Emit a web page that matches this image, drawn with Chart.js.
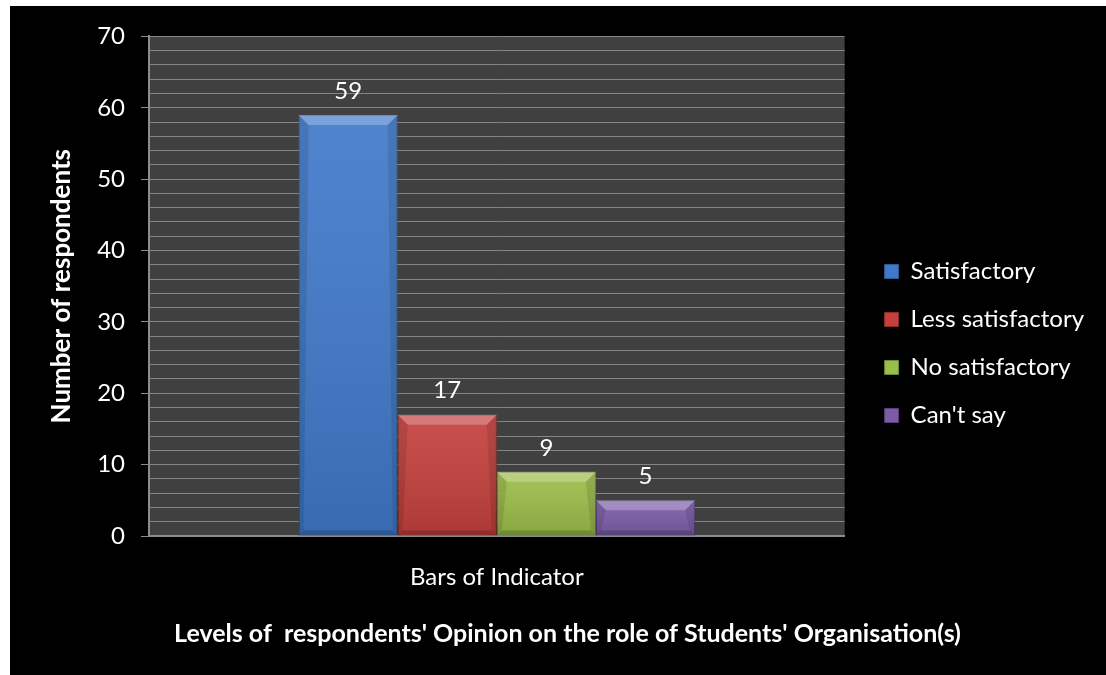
<!DOCTYPE html>
<html>
<head>
<meta charset="utf-8">
<script src="https://cdn.jsdelivr.net/npm/chart.js@4.4.1/dist/chart.umd.min.js"></script>
<style>
  html, body { margin: 0; padding: 0; background: #fff; overflow: hidden; }
  #wrap { position: absolute; left: 10px; top: 6px; right: 0; bottom: 0; background: #000; }
  #opinionChart { display: block; }
</style>
</head>
<body>
<div id="wrap"><canvas id="opinionChart" width="1096" height="669"></canvas></div>
<script>
document.addEventListener('DOMContentLoaded', function () {
    "use strict";

    var categories = ['Bars of Indicator'];
    var opinionLevels = ['Satisfactory', 'Less satisfactory', 'No satisfactory', "Can't say"];
    var respondents = [59, 17, 9, 5];
    var yLabels = [0, 10, 20, 30, 40, 50, 60, 70];

    var barColors = ['#4079ca', '#c4403d', '#9bbd49', '#7c5ca8'];
    var barEdges = ['#2c5a99', '#8f2c2a', '#6f8a31', '#573f7a'];

    // grey plot background
    var plotBackground = {
        id: 'plotBackground',
        beforeDraw: function (chart) {
            var a = chart.chartArea, c = chart.ctx;
            c.save();
            c.fillStyle = '#404040';
            c.fillRect(a.left, a.top, a.right - a.left, a.bottom - a.top);
            c.restore();
        }
    };

    // bevelled look on each bar
    var barBevel = {
        id: 'barBevel',
        afterDatasetsDraw: function (chart) {
            var c = chart.ctx;
            chart.data.datasets.forEach(function (ds, di) {
                chart.getDatasetMeta(di).data.forEach(function (bar) {
                    var p = bar.getProps(['x', 'y', 'base', 'width'], true);
                    var l = p.x - p.width / 2, r = p.x + p.width / 2, t = p.y, b = p.base;
                    var s = 5, tt = 10;
                    c.save();
                    var g = c.createLinearGradient(0, t, 0, b);
                    g.addColorStop(0, 'rgba(255,255,255,0.08)');
                    g.addColorStop(1, 'rgba(0,0,0,0.12)');
                    c.fillStyle = g;
                    c.fillRect(l, t, r - l, b - t);
                    // top
                    c.fillStyle = 'rgba(255,255,255,0.25)';
                    c.beginPath();
                    c.moveTo(l, t); c.lineTo(r, t); c.lineTo(r - tt, t + tt); c.lineTo(l + tt, t + tt);
                    c.closePath(); c.fill();
                    // sides
                    c.fillStyle = 'rgba(0,0,0,0.10)';
                    c.beginPath();
                    c.moveTo(l, t); c.lineTo(l + tt, t + tt); c.lineTo(l + s, b - s); c.lineTo(l, b);
                    c.closePath(); c.fill();
                    c.beginPath();
                    c.moveTo(r, t); c.lineTo(r - tt, t + tt); c.lineTo(r - s, b - s); c.lineTo(r, b);
                    c.closePath(); c.fill();
                    // bottom
                    c.fillStyle = 'rgba(0,0,0,0.18)';
                    c.beginPath();
                    c.moveTo(l, b); c.lineTo(l + s, b - s); c.lineTo(r - s, b - s); c.lineTo(r, b);
                    c.closePath(); c.fill();
                    c.restore();
                });
            });
        }
    };

    // value above each bar
    var valueLabels = {
        id: 'valueLabels',
        afterDatasetsDraw: function (chart) {
            var c = chart.ctx;
            c.save();
            c.fillStyle = '#fff';
            c.font = '24px Lato';
            c.textAlign = 'center';
            c.textBaseline = 'middle';
            chart.data.datasets.forEach(function (ds, di) {
                chart.getDatasetMeta(di).data.forEach(function (bar, i) {
                    c.fillText(String(ds.data[i]), bar.x, bar.y - 24);
                });
            });
            c.restore();
        }
    };

    var datasets = opinionLevels.map(function (name, i) {
        return {
            label: name,
            data: [respondents[i]],
            backgroundColor: barColors[i],
            borderColor: barEdges[i],
            borderWidth: 1
        };
    });

    new Chart(document.getElementById('opinionChart'), {
        type: 'bar',
        data: { labels: categories, datasets: datasets },
        plugins: [plotBackground, barBevel, valueLabels],
        options: {
            responsive: false,
            animation: false,
            categoryPercentage: 0.57,
            barPercentage: 1,
            layout: { padding: { left: 31, top: 30, right: 12, bottom: 24 } },
            plugins: {
                tooltip: { enabled: false },
                title: {
                    display: true,
                    position: 'bottom',
                    text: "Levels of  respondents' Opinion on the role of Students' Organisation(s)",
                    color: '#fff',
                    font: { family: 'Lato', size: 25, weight: 'bold' },
                    padding: { top: 0, bottom: 2 }
                },
                legend: {
                    position: 'right',
                    labels: {
                        color: '#fff',
                        font: { family: 'Lato', size: 24 },
                        boxWidth: 14,
                        boxHeight: 14,
                        padding: 24
                    }
                }
            },
            scales: {
                x: {
                    grid: { display: false, drawTicks: false },
                    border: { color: '#8c8c8c', width: 2 },
                    ticks: { color: '#fff', font: { family: 'Lato', size: 24 }, padding: 27.1 }
                },
                y: {
                    min: 0,
                    max: 70,
                    grid: {
                        color: '#858585',
                        lineWidth: 1,
                        tickLength: 8,
                        tickColor: function (ctx) {
                            return ctx.tick && yLabels.indexOf(ctx.tick.value) >= 0 ? '#8c8c8c' : 'rgba(0,0,0,0)';
                        }
                    },
                    border: { color: '#8c8c8c', width: 2 },
                    ticks: {
                        stepSize: 2,
                        autoSkip: false,
                        color: '#fff',
                        font: { family: 'Lato', size: 24 },
                        padding: 16,
                        callback: function (v) { return yLabels.indexOf(v) >= 0 ? v : ''; }
                    },
                    title: {
                        display: true,
                        text: 'Number of respondents',
                        color: '#fff',
                        font: { family: 'Lato', size: 26, weight: 'bold' },
                        padding: { top: 5, bottom: 4 }
                    }
                },
                // spacer between the plot and the legend
                gap: {
                    display: false,
                    position: 'right',
                    afterFit: function (s) { s.width = 16; }
                }
            }
        }
    });
});
</script>
</body>
</html>
